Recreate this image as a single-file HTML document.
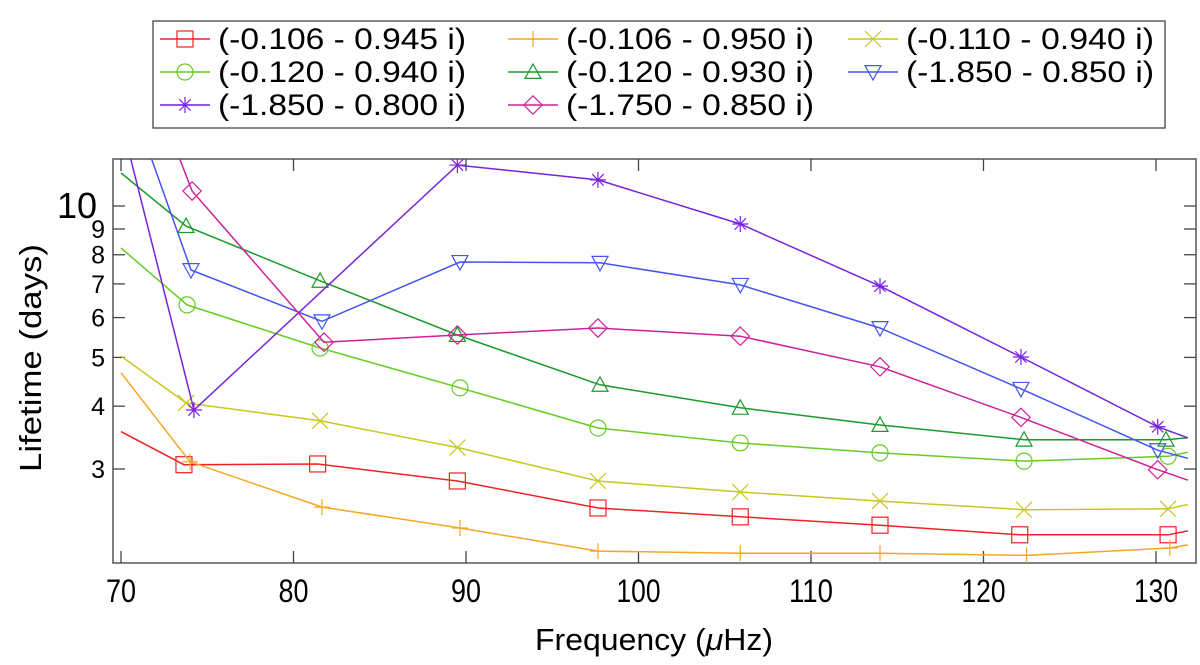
<!DOCTYPE html>
<html><head><meta charset="utf-8"><style>
html,body{margin:0;padding:0;background:#fff;}
svg{display:block;font-family:"Liberation Sans",sans-serif;}
</style></head><body>
<svg id="chart" width="1200" height="665" viewBox="0 0 1200 665" xmlns="http://www.w3.org/2000/svg">
<defs><clipPath id="plotclip"><rect x="113" y="159" width="1083" height="404"/></clipPath></defs>
<g id="legend"></g>
<g id="axes"></g>
<g id="series" clip-path="url(#plotclip)"></g>
<text x="654" y="650" font-size="31" text-anchor="middle" textLength="238" lengthAdjust="spacingAndGlyphs">Frequency (<tspan font-style="italic">μ</tspan>Hz)</text>
<text x="0" y="0" font-size="31" text-anchor="middle" transform="translate(41,358) rotate(-90)" textLength="228" lengthAdjust="spacingAndGlyphs">Lifetime (days)</text>
</svg>
<script>
// ---- data ----
const seriesLabels = ["(-0.106 - 0.945 i)","(-0.106 - 0.950 i)","(-0.110 - 0.940 i)","(-0.120 - 0.940 i)","(-0.120 - 0.930 i)","(-1.850 - 0.850 i)","(-1.850 - 0.800 i)","(-1.750 - 0.850 i)"];
const seriesColors = ["#ee2222","#f5a623","#c8c81e","#66cc22","#1a9a2a","#4455ee","#7722dd","#cc2299"];
const seriesMarkers = ["square","plus","cross","circle","triangle","down","star","diamond"];
const freqRed = [70,73.65,81.4,89.5,97.65,105.9,114.0,122.1,130.7,131.85];
const lifeRed = [3.56,3.06,3.07,2.84,2.51,2.41,2.32,2.22,2.22,2.26];
const freqOrange = [70,74.0,81.65,89.65,97.65,105.9,114.0,122.5,130.8,131.85];
const lifeOrange = [4.66,3.10,2.52,2.29,2.06,2.04,2.04,2.02,2.09,2.12];
const freqYellow = [70,73.77,81.54,89.5,97.65,105.9,114.0,122.35,130.7,131.85];
const lifeYellow = [5.03,4.06,3.74,3.31,2.84,2.70,2.59,2.49,2.50,2.55];
const freqLime = [70,73.83,81.54,89.65,97.65,105.9,114.0,122.35,130.7,131.85];
const lifeLime = [8.25,6.36,5.22,4.35,3.62,3.38,3.23,3.11,3.18,3.24];
const freqGreen = [70,73.77,81.54,89.5,97.77,105.9,114.0,122.35,130.58,131.85];
const lifeGreen = [11.63,9.12,7.10,5.54,4.41,3.97,3.67,3.43,3.43,3.46];
const freqBlue = [70,74.06,81.65,89.65,97.77,105.9,114.0,122.17,130.1,131.85];
const lifeBlue = [18.4,7.46,5.90,7.74,7.71,6.97,5.72,4.33,3.27,3.15];
const freqPurple = [70,74.23,89.5,97.65,105.9,114.0,122.17,130.1,131.85];
const lifePurple = [14.8,3.93,12.06,11.27,9.21,6.93,5.01,3.64,3.46];
const freqMagenta = [70,74.12,81.77,89.5,97.65,105.9,114.0,122.17,130.1,131.85];
const lifeMagenta = [24.9,10.71,5.36,5.54,5.72,5.51,4.79,3.80,2.99,2.85];
const xTicks = [70,80,90,100,110,120,130];
const yTicks = [3,4,5,6,7,8,9,10];

const allFreq=[freqRed,freqOrange,freqYellow,freqLime,freqGreen,freqBlue,freqPurple,freqMagenta];
const allLife=[lifeRed,lifeOrange,lifeYellow,lifeLime,lifeGreen,lifeBlue,lifePurple,lifeMagenta];

// ---- axes functions ----
const X0=113,X1=1196,Y0=159,Y1=563;
const xMin=70-(121-113)/17.25, xMax=70+(1196-121)/17.25;
const yMinL=1-(563-206)/503, yMaxL=1+(206-159)/503;
function xs(f){return X0+(f-xMin)/(xMax-xMin)*(X1-X0);}
function ys(v){return Y1-(Math.log10(v)-yMinL)/(yMaxL-yMinL)*(Y1-Y0);}

const NS="http://www.w3.org/2000/svg";
function mk(tag,attrs,parent){const e=document.createElementNS(NS,tag);for(const k in attrs)e.setAttribute(k,attrs[k]);parent.appendChild(e);return e;}

function marker(type,x,y,color,parent){
  const s=8;const g=mk('g',{stroke:color,fill:'none','stroke-width':1.2},parent);
  if(type==='square')mk('rect',{x:x-s,y:y-s,width:2*s,height:2*s},g);
  else if(type==='plus'){mk('line',{x1:x-s,y1:y,x2:x+s,y2:y},g);mk('line',{x1:x,y1:y-s,x2:x,y2:y+s},g);}
  else if(type==='cross'){mk('line',{x1:x-s,y1:y-s,x2:x+s,y2:y+s},g);mk('line',{x1:x-s,y1:y+s,x2:x+s,y2:y-s},g);}
  else if(type==='circle')mk('circle',{cx:x,cy:y,r:s},g);
  else if(type==='triangle')mk('polygon',{points:`${x},${y-s} ${x-s},${y+s*0.8} ${x+s},${y+s*0.8}`},g);
  else if(type==='down')mk('polygon',{points:`${x},${y+s} ${x-s},${y-s*0.8} ${x+s},${y-s*0.8}`},g);
  else if(type==='star'){for(let a=0;a<4;a++){const t=a*Math.PI/4;mk('line',{x1:x-s*Math.cos(t),y1:y-s*Math.sin(t),x2:x+s*Math.cos(t),y2:y+s*Math.sin(t)},g);}}
  else if(type==='diamond')mk('polygon',{points:`${x},${y-s*1.15} ${x+s*1.15},${y} ${x},${y+s*1.15} ${x-s*1.15},${y}`},g);
  return g;
}

// axes
const ax=document.getElementById('axes');
const frame=mk('rect',{x:X0,y:Y0,width:X1-X0,height:Y1-Y0,fill:'none',stroke:'#555','stroke-width':1.5},ax);


xTicks.forEach(t=>{
  const x=xs(t);
  mk('line',{x1:x,y1:Y1,x2:x,y2:Y1-12,stroke:'#444','stroke-width':1.3},ax);
  mk('line',{x1:x,y1:Y0,x2:x,y2:Y0+12,stroke:'#444','stroke-width':1.3},ax);
  const tx=mk('text',{x:x,y:602,'font-size':32,'text-anchor':'middle',textLength:t>=100?44:30,lengthAdjust:'spacingAndGlyphs'},ax);
  tx.textContent=t;
  
  
});
yTicks.forEach(t=>{
  const y=ys(t);
  mk('line',{x1:X0,y1:y,x2:X0+12,y2:y,stroke:'#444','stroke-width':1.3},ax);
  mk('line',{x1:X1,y1:y,x2:X1-12,y2:y,stroke:'#444','stroke-width':1.3},ax);
  const big=t===10;
  const tx=mk('text',{x:big?97:105,y:y+(big?12:9),'font-size':big?36:25,'text-anchor':'end'},ax);
  tx.textContent=t;
  
  
});

// series
const sg=document.getElementById('series');
allFreq.forEach((fr,i)=>{
  const lf=allLife[i];
  const g=mk('g',{},sg);
  
  
  const pts=fr.map((f,j)=>xs(f).toFixed(1)+','+ys(lf[j]).toFixed(1)).join(' ');
  mk('polyline',{points:pts,fill:'none',stroke:seriesColors[i],'stroke-width':1.5},g);
  for(let j=1;j<fr.length-1;j++){
    const m=marker(seriesMarkers[i],xs(fr[j]),ys(lf[j]),seriesColors[i],g);
    
    
  }
});

// legend
const lg=document.getElementById('legend');
const lbox=mk('rect',{x:153,y:21,width:1012,height:107,fill:'#fff',stroke:'#444','stroke-width':1.3},lg);


const colX=[160,508,848];
seriesLabels.forEach((lab,i)=>{
  const c=i%3,r=Math.floor(i/3);
  const x=colX[c],y=39+r*33;
  const e=mk('g',{},lg);
  
  
  mk('line',{x1:x,y1:y,x2:x+50,y2:y,stroke:seriesColors[i],'stroke-width':1.5},e);
  marker(seriesMarkers[i],x+25,y,seriesColors[i],e);
  const t=mk('text',{x:x+58,y:y+10,'font-size':30,textLength:248,lengthAdjust:'spacingAndGlyphs'},e);
  t.textContent=lab;
});
</script>
</body></html>
